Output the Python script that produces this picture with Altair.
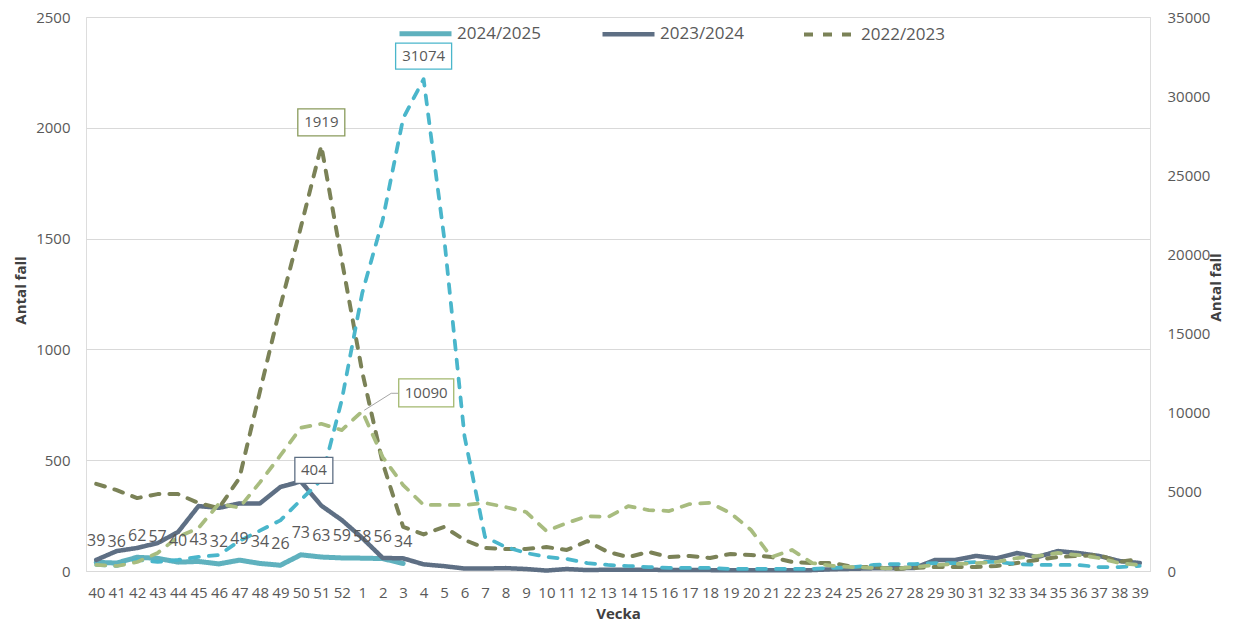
import altair as alt
import pandas as pd

weeks = [str(w) for w in list(range(40, 53)) + list(range(1, 40))]

s2425 = [39, 36, 62, 57, 40, 43, 32, 49, 34, 26, 73, 63, 59, 58, 56, 34]
s2324 = [50, 90, 104, 126, 176, 293, 285, 305, 305, 379, 404, 295, 230, 149, 59, 57,
         30, 22, 11, 11, 13, 9, 2, 9, 4, 6, 6, 6, 4, 4, 4, 3, 3, 3, 3, 4,
         8, 10, 12, 12, 14, 50, 50, 68, 57, 81, 63, 90, 81, 68, 45, 36]
s2223 = [393, 365, 329, 347, 347, 307, 284, 420, 810, 1195, 1552, 1919, 1403, 898, 487, 199,
         165, 199, 140, 104, 99, 99, 108, 95, 135, 86, 63, 86, 63, 68, 59, 77,
         72, 63, 41, 36, 36, 18, 18, 9, 14, 18, 18, 18, 23, 36, 50, 63, 68, 72, 41, 54]
cyan_right = [380, 316, 700, 570, 700, 890, 1010, 1900, 2550, 3200, 4490, 5750, 10800, 17560, 22180, 28600,
              31074, 21100, 8500, 2150, 1520, 1140, 890, 760, 500, 380, 316, 250, 190, 190, 190, 130,
              130, 130, 130, 130, 190, 250, 380, 440, 440, 500, 500, 570, 570, 440, 380, 380, 380, 250, 250, 316]
green_right = [380, 316, 570, 1140, 2150, 2720, 4250, 4000, 5600, 7300, 9050, 9300, 8900, 10090, 7200, 5430,
               4170, 4170, 4170, 4300, 4040, 3730, 2530, 3030, 3470, 3400, 4100, 3850, 3790, 4230, 4300, 3660,
               2590, 880, 1330, 500, 320, 250, 200, 150, 250, 380, 440, 500, 570, 820, 950, 1140, 1010, 820, 500, 380]

left_names = ["2024/2025", "2023/2024", "2022/2023"]
left_colors = ["#5FB1BE", "#5E6F84", "#7B8257"]
left_dash = [[1, 0], [1, 0], [9, 10]]
left_widths = [5, 4, 3.75]

LEFT_DOMAIN = [0, 2500]
RIGHT_DOMAIN = [0, 35000]

rows = []
for name, vals in zip(left_names, [s2425, s2324, s2223]):
    for i, v in enumerate(vals):
        rows.append({"week": weeks[i], "idx": i, "series": name, "value": v})
left_df = pd.DataFrame(rows)

def series_df(vals):
    return pd.DataFrame({"week": weeks[:len(vals)], "idx": list(range(len(vals))), "value": vals})

X = alt.X("week:N", sort=weeks, scale=alt.Scale(type="point", padding=0.5),
          axis=alt.Axis(labelAngle=0, labelFontSize=15, labelColor="#595959", labelPadding=14,
                        labelOverlap=False, ticks=False, domain=True, domainColor="#D9D9D9",
                        grid=False, title="Vecka", titleFontSize=15, titleFontWeight="bold",
                        titleColor="#404040", titleY=47, titleBaseline="alphabetic"))

def y_left(axis=None):
    return alt.Y("value:Q", scale=alt.Scale(domain=LEFT_DOMAIN, nice=False), axis=axis)

def y_right(axis=None):
    return alt.Y("value:Q", scale=alt.Scale(domain=RIGHT_DOMAIN, nice=False), axis=axis)

left_axis = alt.Axis(orient="left", values=list(range(0, 2501, 500)), format="d", labelFontSize=15,
                     labelColor="#595959", labelPadding=16, ticks=False, domain=False,
                     grid=True, gridColor="#D9D9D9", title="Antal fall", titleFontSize=15,
                     titleFontWeight="bold", titleColor="#404040", titleAngle=270,
                     titleX=-66, titleY=273, titleAlign="center", titleBaseline="middle")
right_axis = alt.Axis(orient="right", values=list(range(0, 35001, 5000)), format="d", labelFontSize=15,
                      labelColor="#595959", labelPadding=17, ticks=False, domain=False,
                      grid=False, title="Antal fall", titleFontSize=15,
                      titleFontWeight="bold", titleColor="#404040", titleAngle=270,
                      titleX=65, titleY=270, titleAlign="center", titleBaseline="middle")

legend = alt.Legend(orient="none", legendX=311, legendY=-12, direction="horizontal", title=None,
                    symbolType="stroke", symbolSize=2704, labelFontSize=17, labelColor="#595959",
                    labelOffset=3, columnPadding=52, padding=0)

left_lines = alt.Chart(left_df).mark_line(strokeCap="round", strokeJoin="round").encode(
    x=X,
    y=y_left(left_axis),
    color=alt.Color("series:N", scale=alt.Scale(domain=left_names, range=left_colors), legend=legend),
    strokeDash=alt.StrokeDash("series:N", scale=alt.Scale(domain=left_names, range=left_dash), legend=legend),
    strokeWidth=alt.StrokeWidth("series:N", scale=alt.Scale(domain=left_names, range=left_widths), legend=legend),
    order=alt.Order("idx:Q"),
)

cyan_line = alt.Chart(series_df(cyan_right)).mark_line(
    color="#4AB6CB", strokeWidth=3.75, strokeDash=[9, 10], strokeCap="round", strokeJoin="round"
).encode(x=X, y=y_right(right_axis), order=alt.Order("idx:Q"))

green_line = alt.Chart(series_df(green_right)).mark_line(
    color="#A8BC7F", strokeWidth=3.75, strokeDash=[9, 10], strokeCap="round", strokeJoin="round"
).encode(x=X, y=y_right(), order=alt.Order("idx:Q"))

teal_labels = alt.Chart(series_df(s2425)).mark_text(
    fontSize=16, color="#595959", baseline="middle", dy=-21.5
).encode(x=X, y=y_left(), text="value:Q")

def box(week, vals, color, dx, dy, w, h, yfun):
    v = vals[weeks.index(week)]
    df = pd.DataFrame({"week": [week], "value": [v], "label": [str(v)]})
    base = alt.Chart(df).encode(x=X, y=yfun())
    hh = round(h / w, 4)
    path = f"M-1,{-hh} L1,{-hh} L1,{hh} L-1,{hh} Z"
    b = base.mark_point(shape=path, size=w * w, filled=True, fill="white", stroke=color,
                        strokeWidth=1.3, opacity=1, xOffset=dx, yOffset=dy)
    t = base.mark_text(fontSize=15, color="#595959", baseline="middle",
                       xOffset=dx, yOffset=dy).encode(text="label:N")
    return [b, t]

def leader(week, vals, yfun):
    v = vals[weeks.index(week)]
    df = pd.DataFrame({"week": [week], "value": [v]})
    base = alt.Chart(df).encode(x=X, x2=alt.X2("week"), y=yfun(), y2=alt.Y2("value"))
    r1 = base.mark_rule(color="#A6A6A6", strokeWidth=1, xOffset=2, yOffset=-1, x2Offset=29, y2Offset=-18)
    r2 = base.mark_rule(color="#A6A6A6", strokeWidth=1, xOffset=29, yOffset=-18, x2Offset=36, y2Offset=-18)
    return [r1, r2]

layers = [left_lines, cyan_line, green_line, teal_labels]
layers += leader("1", green_right, y_right)
layers += box("51", s2223, "#8A9B5C", 0, -23.3, 47, 27, y_left)
layers += box("50", s2324, "#5E6F84", 13, -11, 38, 26, y_left)
layers += box("4", cyan_right, "#4AB6CB", 0, -23, 56, 26, y_right)
layers += box("1", green_right, "#A3B86F", 64, -18.5, 55, 28, y_right)

chart = alt.layer(*layers).resolve_scale(y="independent").properties(
    width=1064, height=554,
    autosize=alt.AutoSizeParams(type="none"),
    padding={"left": 78, "top": 9, "right": 76, "bottom": 51},
).configure_view(stroke=None).configure(font="Open Sans")

chart.save("out.html", embed_options={"renderer": "svg", "actions": False})
